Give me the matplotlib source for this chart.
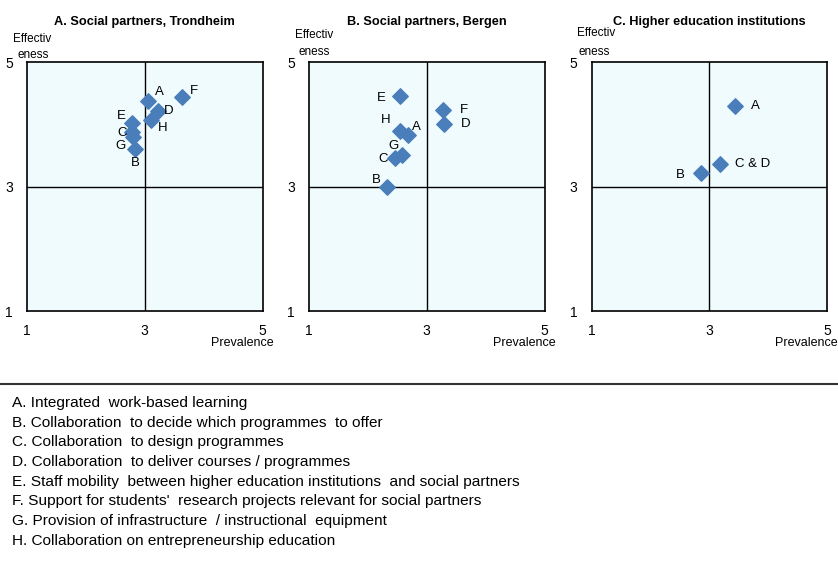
import matplotlib
matplotlib.use("Agg")
import matplotlib.pyplot as plt

plt.rcParams['font.family'] = ['Liberation Sans', 'DejaVu Sans']

# panel data: prevalence (x), effectiveness (y), labels
titles = ["A. Social partners, Trondheim", "B. Social partners, Bergen",
          "C. Higher education institutions"]

a_labels = ["A", "B", "C", "D", "E", "F", "G", "H"]
a_prev = [3.06, 2.84, 2.79, 3.23, 2.78, 3.64, 2.80, 3.11]
a_eff = [4.38, 3.61, 3.87, 4.21, 4.02, 4.44, 3.79, 4.07]

b_labels = ["A", "B", "C", "D", "E", "F", "G", "H"]
b_prev = [2.69, 2.32, 2.46, 3.30, 2.55, 3.28, 2.58, 2.54]
b_eff = [3.83, 3.00, 3.46, 4.00, 4.45, 4.23, 3.51, 3.89]

c_labels = ["A", "B", "C & D"]
c_prev = [3.44, 2.86, 3.19]
c_eff = [4.29, 3.21, 3.36]

# label offsets in pixels (dx, dy), dy positive = up
a_off = [(11, 9), (0, -14), (-10, -1), (10, 0), (-10, 7), (12, 6), (-12, -9), (11, -8)]
b_off = [(8, 8), (-10, 7), (-12, -1), (21, 0), (-19, -2), (21, 0), (-9, 9), (-14, 11)]
c_off = [(20, 0), (-21, -2), (32, 0)]

legend_lines = [
    "A. Integrated  work-based learning",
    "B. Collaboration  to decide which programmes  to offer",
    "C. Collaboration  to design programmes",
    "D. Collaboration  to deliver courses / programmes",
    "E. Staff mobility  between higher education institutions  and social partners",
    "F. Support for students'  research projects relevant for social partners",
    "G. Provision of infrastructure  / instructional  equipment",
    "H. Collaboration on entrepreneurship education",
]

W, H = 838, 569
fig = plt.figure(figsize=(8.38, 5.69), dpi=100)
lefts = [27, 309, 591.5]
# per-panel "Effectiv / eness" label placement (px from axes left / top)
eff_pos = [((-14, 23), (-10, 7)), ((-14, 27), (-11, 10)),
           ((-15, 29), (-13, 10))]
panels = [(a_labels, a_prev, a_eff, a_off),
          (b_labels, b_prev, b_eff, b_off),
          (c_labels, c_prev, c_eff, c_off)]

for i, (labels, xs, ys, offs) in enumerate(panels):
    ax = fig.add_axes([lefts[i] / W, 1 - 311 / H, 235.5 / W, 249 / H])
    ax.set_facecolor("#f0fbfd")
    ax.set_xlim(1, 5)
    ax.set_ylim(1, 5)
    ax.axvline(3, color="black", lw=1)
    ax.axhline(3, color="black", lw=1)
    ax.scatter(xs, ys, marker="D", s=62, color="#4a7ebb", zorder=3)
    for lab, x, y, (dx, dy) in zip(labels, xs, ys, offs):
        ax.annotate(lab, (x, y), xytext=(dx, dy), textcoords="offset pixels",
                    ha="center", va="center", fontsize=9.5)
    for sp in ax.spines.values():
        sp.set_linewidth(1.2)
    ax.set_xticks([1, 3, 5])
    ax.set_yticks([1, 3, 5])
    ax.tick_params(length=0, labelsize=10, pad=9)
    ax.tick_params(axis="y", pad=10)
    ax.set_title(titles[i], fontsize=9.2, fontweight="bold", pad=27)
    right = lefts[i] + 235.5
    fig.text((right + 11) / W, 1 - 343 / H, "Prevalence", ha="right",
             va="center", fontsize=9)
    (ex, ey), (nx, ny) = eff_pos[i]
    fig.text((lefts[i] + ex) / W, 1 - (62 - ey) / H, "Effectiv", ha="left",
             va="center", fontsize=8.5)
    fig.text((lefts[i] + nx) / W, 1 - (62 - ny) / H, "eness", ha="left",
             va="center", fontsize=8.5)

# separator line above the legend
fig.add_artist(plt.Line2D([0, 1], [1 - 384 / H, 1 - 384 / H],
                          color="#333333", lw=1.5))

for k, line in enumerate(legend_lines):
    fig.text(12 / W, 1 - (403 + 19.7 * k) / H, line, ha="left",
             va="center", fontsize=11.1)

fig.savefig("out.png", dpi=100)
